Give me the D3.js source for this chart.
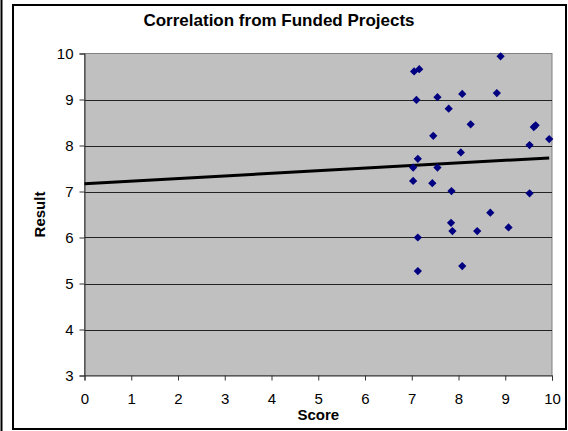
<!DOCTYPE html>
<html>
<head>
<meta charset="utf-8">
<script src="https://cdn.jsdelivr.net/npm/d3@7"></script>
<style>
  html, body { margin: 0; padding: 0; background: #fff; }
  svg { display: block; font-family: Arial, "Liberation Sans", sans-serif; }
</style>
</head>
<body>
<svg id="chart" width="568" height="431"></svg>
<script>
// Funded projects: review score vs. outcome result
const scores  = [8.90, 7.05, 7.16, 7.10, 7.55, 8.08, 8.82, 7.79, 8.26, 7.46,
                 9.65, 9.61, 9.52, 9.94, 7.13, 8.05, 7.03, 7.55, 7.03, 7.44,
                 7.85, 9.52, 8.68, 7.84, 7.87, 8.40, 9.07, 7.13, 8.08, 7.13];
const results = [9.94, 9.61, 9.66, 8.99, 9.05, 9.12, 9.14, 8.80, 8.46, 8.21,
                 8.44, 8.40, 8.01, 8.14, 7.71, 7.85, 7.52, 7.52, 7.23, 7.18,
                 7.01, 6.96, 6.54, 6.32, 6.14, 6.14, 6.22, 6.00, 5.38, 5.27];

// Linear trendline (extended back to zero)
const trendX = [0, 9.94];
const trendY = [7.17, 7.73];

const xTicks = [0, 1, 2, 3, 4, 5, 6, 7, 8, 9, 10];
const yTicks = [3, 4, 5, 6, 7, 8, 9, 10];

const svg = d3.select("#chart");

const plot = { left: 84.5, right: 552, top: 53.5, bottom: 375.5 };

const x = d3.scaleLinear().domain([0, 10]).range([plot.left, plot.right]);
const y = d3.scaleLinear().domain([3, 10]).range([plot.bottom, plot.top]);

// Page edge rule and chart frame
svg.append("line")
  .attr("x1", 1.5).attr("x2", 1.5).attr("y1", 0).attr("y2", 431)
  .attr("stroke", "#000").attr("stroke-width", 2);
svg.append("rect")
  .attr("x", 13).attr("y", 5).attr("width", 553).attr("height", 424)
  .attr("fill", "#fff").attr("stroke", "#000").attr("stroke-width", 2);

// Plot background
svg.append("rect")
  .attr("x", plot.left).attr("y", plot.top)
  .attr("width", plot.right - plot.left).attr("height", plot.bottom - plot.top)
  .attr("fill", "#c0c0c0").attr("stroke", "#808080").attr("stroke-width", 1);

// Horizontal gridlines
svg.append("g").selectAll("line")
  .data(yTicks.filter(d => d > 3 && d < 10))
  .join("line")
  .attr("x1", plot.left).attr("x2", plot.right)
  .attr("y1", d => Math.round(y(d)) + 0.5).attr("y2", d => Math.round(y(d)) + 0.5)
  .attr("stroke", "#222").attr("stroke-width", 1);

// Axes
const xAxis = d3.axisBottom(x).tickValues(xTicks).tickSize(5).tickPadding(13).tickFormat(d3.format("d"));
const yAxis = d3.axisLeft(y).tickValues(yTicks).tickSize(5).tickPadding(6).tickFormat(d3.format("d"));

const gx = svg.append("g").attr("transform", `translate(0,${plot.bottom})`).call(xAxis);
const gy = svg.append("g").attr("transform", `translate(${plot.left},0)`).call(yAxis);

[gx, gy].forEach(g => {
  g.select(".domain").attr("stroke", "#333");
  g.selectAll(".tick line").attr("stroke", "#333");
  g.selectAll(".tick text").attr("fill", "#000")
    .style("font-size", "15px").style("font-family", "Arial, 'Liberation Sans', sans-serif");
});

// Trendline
svg.append("line")
  .attr("x1", x(trendX[0])).attr("y1", y(trendY[0]))
  .attr("x2", x(trendX[1])).attr("y2", y(trendY[1]))
  .attr("stroke", "#000").attr("stroke-width", 3);

// Data markers (diamonds)
const diamond = d3.symbol().type(d3.symbolSquare).size(34);
svg.append("g").selectAll("path")
  .data(scores.map((s, i) => [s, results[i]]))
  .join("path")
  .attr("d", diamond)
  .attr("transform", d => `translate(${x(d[0])},${y(d[1])}) rotate(45)`)
  .attr("fill", "#000080");

// Titles
svg.append("text")
  .attr("x", 279).attr("y", 26)
  .attr("text-anchor", "middle")
  .style("font-size", "17px").style("font-weight", "bold")
  .text("Correlation from Funded Projects");

svg.append("text")
  .attr("x", x(5)).attr("y", 420)
  .attr("text-anchor", "middle")
  .style("font-size", "15px").style("font-weight", "bold")
  .text("Score");

svg.append("text")
  .attr("transform", `translate(45,${(plot.top + plot.bottom) / 2}) rotate(-90)`)
  .attr("text-anchor", "middle")
  .style("font-size", "15px").style("font-weight", "bold")
  .text("Result");
</script>
</body>
</html>
